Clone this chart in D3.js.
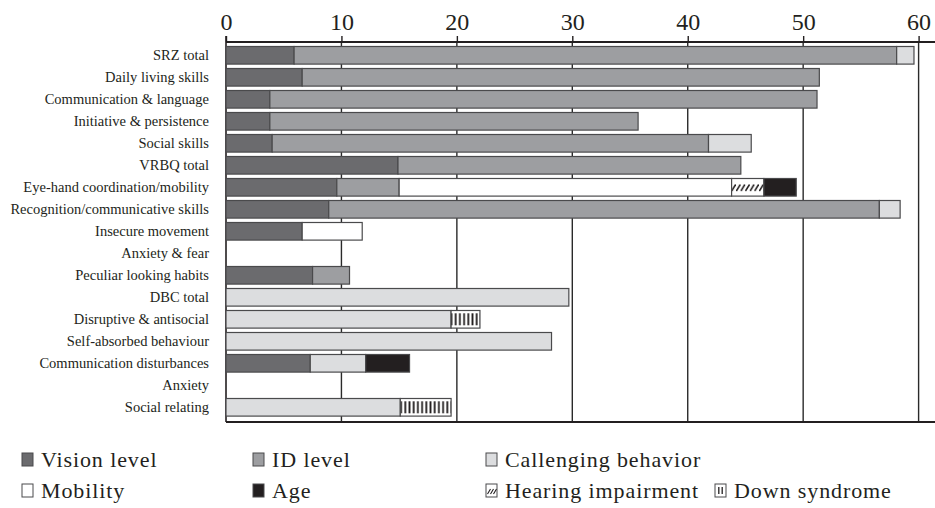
<!DOCTYPE html>
<html>
<head>
<meta charset="utf-8">
<script src="https://cdn.jsdelivr.net/npm/d3@7"></script>
<style>
  body { margin: 0; background: #fff; }
</style>
</head>
<body>
<svg id="chart" width="935" height="508"></svg>
<script>
// Categories (top to bottom)
const categories = ["SRZ total", "Daily living skills", "Communication & language",
  "Initiative & persistence", "Social skills", "VRBQ total", "Eye-hand coordination/mobility",
  "Recognition/communicative skills", "Insecure movement", "Anxiety & fear",
  "Peculiar looking habits", "DBC total", "Disruptive & antisocial", "Self-absorbed behaviour",
  "Communication disturbances", "Anxiety", "Social relating"];

// segment lengths per factor, same order as categories
const vision      = [5.9, 6.6, 3.8, 3.8, 4.0, 14.9, 9.6, 8.9, 6.6, 0, 7.5, 0, 0, 0, 7.3, 0, 0];
const idLevel     = [52.2, 44.8, 47.4, 31.9, 37.8, 29.7, 5.4, 47.7, 0, 0, 3.2, 0, 0, 0, 0, 0, 0];
const mobility    = [0, 0, 0, 0, 0, 0, 28.8, 0, 5.2, 0, 0, 0, 0, 0, 0, 0, 0];
const challenging = [1.5, 0, 0, 0, 3.7, 0, 0, 1.8, 0, 0, 0, 29.7, 19.5, 28.2, 4.8, 0, 15.1];
const hearing     = [0, 0, 0, 0, 0, 0, 2.8, 0, 0, 0, 0, 0, 0, 0, 0, 0, 0];
const age         = [0, 0, 0, 0, 0, 0, 2.8, 0, 0, 0, 0, 0, 0, 0, 3.8, 0, 0];
const down        = [0, 0, 0, 0, 0, 0, 0, 0, 0, 0, 0, 0, 2.5, 0, 0, 0, 4.4];

const xTicks = [0, 10, 20, 30, 40, 50, 60];

const seriesKeys = ["vision", "id", "mobility", "challenging", "hearing", "age", "down"];
const seriesVals = {vision, id: idLevel, mobility, challenging, hearing, age, down};
const fills = {
  vision: "#6b6b6e", id: "#9d9ea1", mobility: "#ffffff", challenging: "#dcdddf",
  hearing: "url(#hatch)", age: "#231f20", down: "url(#stripes)"
};

const legendRows = [
  [["vision", "Vision level"], ["id", "ID level"], ["challenging", "Callenging behavior"]],
  [["mobility", "Mobility"], ["age", "Age"], ["hearing", "Hearing impairment"], ["down", "Down syndrome"]]
];
const legendX = [22, 253, 486, 715];

const FONT = "'Liberation Serif', 'DejaVu Serif', serif";
const INK = "#231f20";

const table = categories.map((c, i) => {
  const row = {cat: c};
  seriesKeys.forEach(k => row[k] = seriesVals[k][i]);
  return row;
});

const svg = d3.select("#chart");
const defs = svg.append("defs");

// bars sit at 46.5 + 22*i, so a 22px tall pattern lines up with every row
// hearing impairment: short diagonal strokes in the middle of the bar
const hp = defs.append("pattern").attr("id", "hatch").attr("patternUnits", "userSpaceOnUse")
  .attr("width", 4.6).attr("height", 22);
hp.append("rect").attr("width", 4.6).attr("height", 22).attr("fill", "#fff");
hp.append("line").attr("x1", 0.3).attr("y1", 15).attr("x2", 4.3).attr("y2", 8.5)
  .attr("stroke", INK).attr("stroke-width", 1.5);

// down syndrome: vertical bars with white margins
const sp = defs.append("pattern").attr("id", "stripes").attr("patternUnits", "userSpaceOnUse")
  .attr("width", 4.2).attr("height", 22);
sp.append("rect").attr("width", 4.2).attr("height", 22).attr("fill", "#fff");
sp.append("rect").attr("x", 1.2).attr("y", 5.3).attr("width", 1.8).attr("height", 12).attr("fill", INK);

const x = d3.scaleLinear().domain([0, 60]).range([226, 918.6]);
const y = d3.scaleBand().domain(categories).range([44.3, 418.3]).paddingInner(0.2).paddingOuter(0.1);

const axisTop = 42, axisBottom = 422;

// gridlines behind bars
svg.append("g").selectAll("line").data(xTicks.slice(1)).join("line")
  .attr("x1", d => x(d)).attr("x2", d => x(d))
  .attr("y1", axisTop).attr("y2", axisBottom)
  .attr("stroke", "#2a2a2a").attr("stroke-width", 1.4);

// top axis with labels
const xAxis = svg.append("g").attr("transform", `translate(0,${axisTop})`)
  .call(d3.axisTop(x).tickValues(xTicks).tickSize(6).tickSizeOuter(0));
xAxis.attr("font-family", null);
xAxis.select(".domain").remove();
xAxis.selectAll(".tick line").attr("stroke", INK).attr("stroke-width", 1.4);
xAxis.selectAll(".tick text").attr("dy", 0).attr("y", -12.5)
  .style("font-family", FONT).style("font-size", "24px").attr("fill", INK);

svg.append("line").attr("x1", x(0)).attr("x2", 935).attr("y1", axisTop).attr("y2", axisTop)
  .attr("stroke", INK).attr("stroke-width", 2.2);
svg.append("line").attr("x1", x(0)).attr("x2", 935).attr("y1", axisBottom).attr("y2", axisBottom)
  .attr("stroke", INK).attr("stroke-width", 2.2);
svg.append("line").attr("x1", x(0)).attr("x2", x(0)).attr("y1", axisTop - 6).attr("y2", axisBottom)
  .attr("stroke", INK).attr("stroke-width", 1.6);

// stacked bars
const stacked = d3.stack().keys(seriesKeys)(table);
svg.append("g").selectAll("g").data(stacked).join("g")
  .attr("fill", d => fills[d.key])
  .selectAll("rect").data(d => d.filter(s => s[1] - s[0] > 0)).join("rect")
  .attr("x", d => x(d[0]))
  .attr("width", d => x(d[1]) - x(d[0]))
  .attr("y", d => y(d.data.cat))
  .attr("height", y.bandwidth())
  .attr("stroke", "#4a4a4c").attr("stroke-width", 1.2);

// category labels
svg.append("g").selectAll("text").data(categories).join("text")
  .attr("x", 209).attr("y", d => y(d) + y.bandwidth() / 2)
  .attr("dy", "0.35em").attr("text-anchor", "end")
  .style("font-family", FONT).style("font-size", "14.5px").attr("fill", INK)
  .text(d => d);

// legend
const lg = svg.append("g");
legendRows.forEach((row, r) => {
  const base = 467 + r * 31;
  row.forEach(([k, label], c) => {
    const sx = legendX[c], sy = base - 14, sw = 11, sh = 13;
    const plain = k !== "hearing" && k !== "down";
    lg.append("rect").attr("x", sx).attr("y", sy).attr("width", sw).attr("height", sh)
      .attr("fill", plain ? fills[k] : "#fff").attr("stroke", "#4a4a4c").attr("stroke-width", 1);
    if (k === "hearing") {
      [0, 3, 6].forEach(o => lg.append("line")
        .attr("x1", sx + 1.5 + o).attr("y1", sy + 10).attr("x2", sx + 4.5 + o).attr("y2", sy + 5)
        .attr("stroke", INK).attr("stroke-width", 1.1));
    }
    if (k === "down") {
      [3.8, 7.2].forEach(o => lg.append("line")
        .attr("x1", sx + o).attr("x2", sx + o).attr("y1", sy + 3).attr("y2", sy + 10)
        .attr("stroke", INK).attr("stroke-width", 1.3));
    }
    lg.append("text").attr("x", sx + 19).attr("y", base)
      .style("font-family", FONT).style("font-size", "22px").style("letter-spacing", "0.9px")
      .attr("fill", INK).text(label);
  });
});
</script>
</body>
</html>
